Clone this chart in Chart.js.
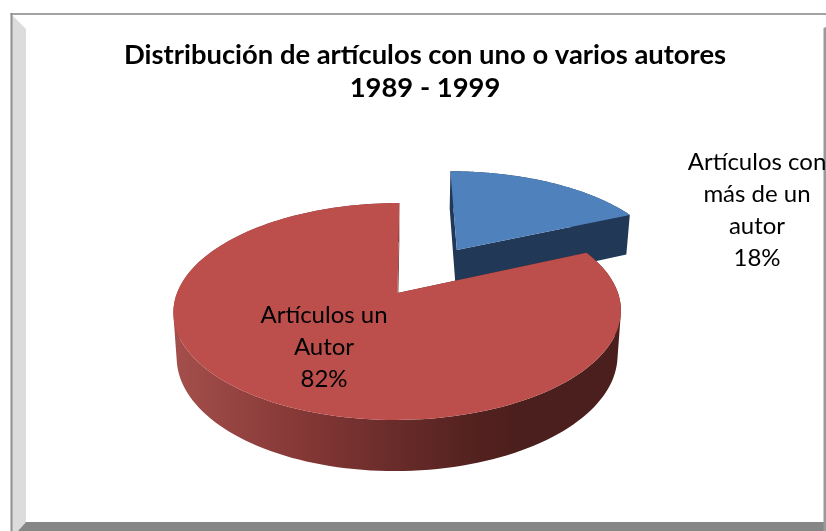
<!DOCTYPE html>
<html>
<head>
<meta charset="utf-8">
<style>
  html, body { margin: 0; padding: 0; background: #fff; overflow: hidden; }
  canvas { display: block; }
</style>
<script src="https://cdn.jsdelivr.net/npm/chart.js@4/dist/chart.umd.min.js"></script>
</head>
<body>
<canvas id="chart" width="826" height="531"></canvas>
<script>
const titleLines = ["Distribución de artículos con uno o varios autores", "1989 - 1999"];
const categories = ["Artículos con más de un autor", "Artículos un Autor"];
const values = [18.3, 81.7];
const labelLines = [["Artículos con", "más de un", "autor"], ["Artículos un", "Autor"]];
const topColors = ["#4f81bd", "#bc4f4c"];
const explode = [50, 46];

// camera, fitted by eye to the picture: red apex is the origin of the projection
const cam = { ox: 397.5, oy: 293, vx: 410, cx: 220.5, cy: 105.3, persp: 0.1705, depth: 44, shrink: 0.985 };
const labelAnchors = [{ x: 757, y: 162 }, { x: 324, y: 315 }];
const labelLeading = 32;

// arc geometry comes from the library, this only flattens it to the 3D look
function makeProjector(arcs) {
  const base = arcs[1];
  const R = base.outerRadius;
  const mid = (base.startAngle + base.endAngle) / 2;
  const org = { x: base.options.offset * Math.cos(mid) / R, y: base.options.offset * Math.sin(mid) / R };
  return function (X, Z, low) {
    const u = X - org.x, v = Z - org.y;
    const w = 1 - cam.persp * v;
    const s = low ? cam.shrink : 1;
    const sx = cam.vx + (cam.ox - cam.vx) / w + cam.cx * u * s / w;
    const sy = cam.oy + (cam.cy * v * s + (low ? cam.depth : 0)) / w;
    return [sx, sy];
  };
}

function outline(arc) {
  const R = arc.outerRadius;
  const mid = (arc.startAngle + arc.endAngle) / 2;
  const ax = arc.options.offset * Math.cos(mid) / R;
  const ay = arc.options.offset * Math.sin(mid) / R;
  const pts = [[ax, ay]];
  const n = 160;
  for (let i = 0; i <= n; i++) {
    const t = arc.startAngle + (arc.endAngle - arc.startAngle) * i / n;
    pts.push([ax + Math.cos(t), ay + Math.sin(t)]);
  }
  return pts;
}

function tracePoly(ctx, poly) {
  ctx.moveTo(poly[0][0], poly[0][1]);
  for (let i = 1; i < poly.length; i++) ctx.lineTo(poly[i][0], poly[i][1]);
  ctx.closePath();
}

function drawSlice(ctx, arc, project, wallFill, topFill) {
  const pts = outline(arc);
  ctx.beginPath();
  for (let i = 0; i < pts.length; i++) {
    const p = pts[i], q = pts[(i + 1) % pts.length];
    let quad = [project(p[0], p[1], false), project(q[0], q[1], false), project(q[0], q[1], true), project(p[0], p[1], true)];
    let area = 0;
    for (let k = 0; k < 4; k++) {
      const a = quad[k], b = quad[(k + 1) % 4];
      area += a[0] * b[1] - b[0] * a[1];
    }
    if (area < 0) quad = quad.reverse();
    tracePoly(ctx, quad);
  }
  ctx.fillStyle = wallFill;
  ctx.fill();

  ctx.beginPath();
  tracePoly(ctx, pts.map(p => project(p[0], p[1], false)));
  ctx.fillStyle = topFill;
  ctx.fill();
}

const pie3d = {
  id: "pie3d",
  beforeDraw(chart) {
    const ctx = chart.ctx;
    const fillPoly = (poly, color) => {
      ctx.beginPath();
      tracePoly(ctx, poly);
      ctx.fillStyle = color;
      ctx.fill();
    };
    ctx.save();
    fillPoly([[12, 15], [26, 29], [26, 522], [18, 531], [12, 531]], "#dcdcdc");
    fillPoly([[18, 531], [26, 522], [826, 522], [826, 531]], "#868686");
    fillPoly([[10.5, 13], [826, 13], [826, 15], [10.5, 15]], "#a3a3a3");
    fillPoly([[10.5, 13], [12.5, 13], [12.5, 531], [10.5, 531]], "#8f8f8f");
    fillPoly([[823.5, 28], [826, 27], [826, 531], [823.5, 531]], "#9a9a9a");
    ctx.restore();
  },
  beforeDatasetsDraw(chart) {
    const ctx = chart.ctx;
    const arcs = chart.getDatasetMeta(0).data;
    const project = makeProjector(arcs);

    const redWall = ctx.createLinearGradient(178, 0, 520, 0);
    redWall.addColorStop(0, "#a34e4b");
    redWall.addColorStop(0.36, "#853836");
    redWall.addColorStop(0.65, "#672b29");
    redWall.addColorStop(0.88, "#52211f");
    redWall.addColorStop(1, "#4b1f1d");

    ctx.save();
    drawSlice(ctx, arcs[0], project, "#213856", topColors[0]);
    drawSlice(ctx, arcs[1], project, redWall, topColors[1]);

    ctx.fillStyle = "#000";
    ctx.font = "24px Lato";
    ctx.textAlign = "center";
    ctx.textBaseline = "middle";
    values.forEach((v, i) => {
      const lines = labelLines[i].concat(Math.round(v) + "%");
      lines.forEach((line, j) => {
        ctx.fillText(line, labelAnchors[i].x, labelAnchors[i].y + j * labelLeading);
      });
    });
    ctx.restore();
    return false;
  }
};

new Chart(document.getElementById("chart"), {
  type: "pie",
  data: {
    labels: categories,
    datasets: [{ data: values, backgroundColor: topColors, borderWidth: 0, offset: explode }]
  },
  options: {
    responsive: false,
    animation: false,
    layout: { padding: { left: 24 } },
    plugins: {
      legend: { display: false },
      tooltip: { enabled: false },
      title: {
        display: true,
        text: titleLines,
        color: "#000",
        font: { family: "Lato", size: 27.4, weight: "bold", lineHeight: 1.2 },
        padding: { top: 39, bottom: 10 }
      }
    }
  },
  plugins: [pie3d]
});
</script>
</body>
</html>
